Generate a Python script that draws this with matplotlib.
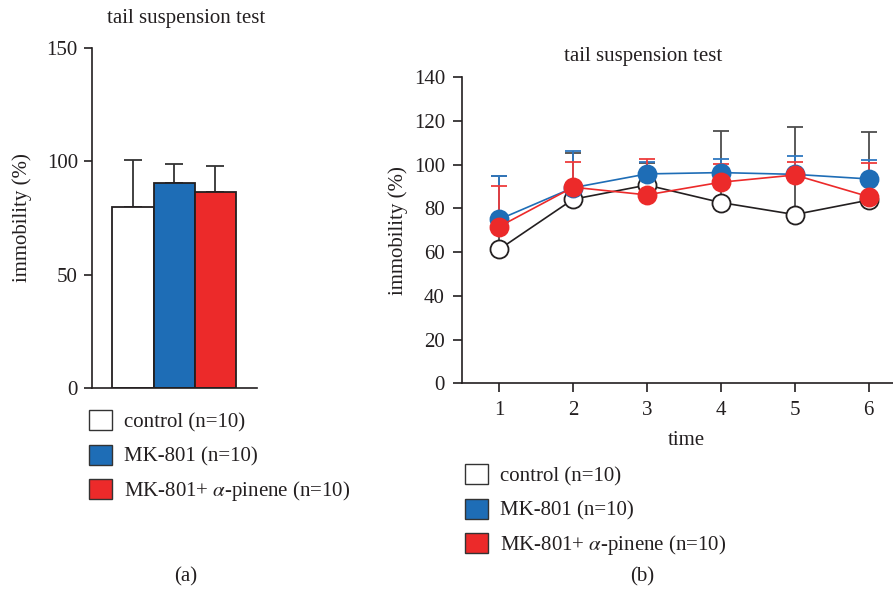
import matplotlib
matplotlib.use("Agg")
import matplotlib.pyplot as plt
import numpy as np
from matplotlib.patches import Patch

plt.rcParams['font.family'] = ['Liberation Serif', 'DejaVu Serif']
plt.rcParams['mathtext.fontset'] = 'stix'
plt.rcParams['text.color'] = '#231f20'
plt.rcParams['axes.labelcolor'] = '#231f20'
plt.rcParams['xtick.color'] = '#231f20'
plt.rcParams['ytick.color'] = '#231f20'

# ---- data ----
groups = ["control (n=10)", "MK-801 (n=10)", r"MK-801+ $\alpha$-pinene (n=10)"]
bar_means = [80.0, 90.5, 86.6]
bar_err = [20.6, 8.5, 11.2]

times = [1, 2, 3, 4, 5, 6]
control_mean = [61.3, 84.2, 90.7, 82.7, 77.2, 83.8]
control_err = [33.5, 21.0, 10.2, 32.9, 40.2, 31.2]
mk_mean = [75.0, 89.5, 95.8, 96.4, 95.6, 93.5]
mk_err = [20.0, 16.9, 5.5, 6.4, 8.4, 8.7]
pin_mean = [71.7, 89.7, 86.2, 92.0, 95.3, 85.4]
pin_err = [18.7, 11.4, 16.4, 8.2, 6.1, 15.4]

colors = ['white', '#1e6db6', '#ec2a2a']
err_colors = ['#4d4d4d', '#2f78c0', '#ee3b3b']
edge = '#231f20'
FS = 15

fig = plt.figure(figsize=(8.93, 5.90), dpi=100)

# ---- panel (a) ----
axa = fig.add_axes([91.7/893, 1-387.7/590, 165/893, 339.4/590])
xpos = np.arange(len(bar_means))
axa.bar(xpos, bar_means, width=1.0, color=colors, edgecolor=edge, linewidth=1.3, zorder=2)
axa.errorbar(xpos, bar_means, yerr=[np.zeros(3), bar_err], fmt='none',
             ecolor='#333333', elinewidth=1.3, capsize=6.2, capthick=1.3, zorder=1)
axa.set_xlim(-1, 3)
axa.set_ylim(0, 150)
axa.set_yticks([0, 50, 100, 150])
axa.set_xticks([])
for s in ['top', 'right']:
    axa.spines[s].set_visible(False)
for s in ['left', 'bottom']:
    axa.spines[s].set_linewidth(1.2)
    axa.spines[s].set_color(edge)
axa.tick_params(axis='y', direction='out', length=6, width=1.2, labelsize=FS, pad=4)
axa.set_ylabel('immobility (%)', fontsize=FS)
axa.yaxis.set_label_coords(-60/165, 0.5)
fig.text(186/893, 1-18/590, 'tail suspension test', ha='center', va='center', fontsize=FS)

handles = [Patch(facecolor=c, edgecolor='#333333', linewidth=1.0) for c in colors]
leg_kw = dict(loc='upper left', frameon=False, fontsize=FS, handlelength=1.1, handleheight=1.1,
              handletextpad=0.58, labelspacing=0.6, borderaxespad=0, borderpad=0)
fig.legend(handles, groups, bbox_to_anchor=(89/893, 1-410/590), **leg_kw)
fig.text(186/893, 1-577/590, '(a)', ha='center', va='center', fontsize=FS)

# ---- panel (b) ----
axb = fig.add_axes([462.3/893, 1-383.3/590, (893-462.3)/893, 306/590])
series = [(control_mean, control_err), (mk_mean, mk_err), (pin_mean, pin_err)]
for (m, e), ec in zip(series, err_colors):
    axb.errorbar(times, m, yerr=[np.zeros(len(m)), e], fmt='none', ecolor=ec,
                 elinewidth=1.3, capsize=5.5, capthick=1.3, zorder=1)
line_colors = ['#231f20', '#1e6db6', '#ec2a2a']
for i, ((m, e), fc, lc) in enumerate(zip(series, colors, line_colors)):
    axb.plot(times, m, '-', color=lc, linewidth=1.2, zorder=2 + i)
    axb.plot(times, m, 'o', markersize=13, markerfacecolor=fc,
             markeredgecolor=('#231f20' if i == 0 else fc), markeredgewidth=1.3, zorder=2 + i)
axb.set_xlim(0.5, 6.33)
axb.set_ylim(0, 140)
axb.set_yticks(range(0, 141, 20))
axb.set_xticks(times)
for s in ['top', 'right']:
    axb.spines[s].set_visible(False)
for s in ['left', 'bottom']:
    axb.spines[s].set_linewidth(1.2)
    axb.spines[s].set_color(edge)
axb.tick_params(axis='both', direction='out', length=6.5, width=1.2, labelsize=FS, pad=6)
axb.set_ylabel('immobility (%)', fontsize=FS)
axb.yaxis.set_label_coords(-(462.3-408)/430.7, 0.5)
axb.set_xlabel('time', fontsize=FS)
axb.xaxis.set_label_coords((686-462.3)/430.7, -(431-383.3)/306)
fig.text(643/893, 1-57/590, 'tail suspension test', ha='center', va='center', fontsize=FS)

fig.legend(handles, groups, bbox_to_anchor=(465/893, 1-464/590), **leg_kw)
fig.text(642/893, 1-577/590, '(b)', ha='center', va='center', fontsize=FS)

fig.savefig('out.png', dpi=100)
